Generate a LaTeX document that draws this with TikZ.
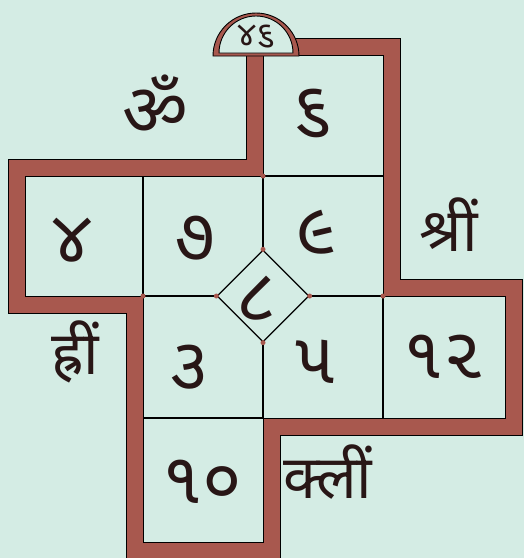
\documentclass[tikz,border=0pt]{standalone}
\usepackage{fontspec}
\usepackage{tikz}
\usetikzlibrary{shapes.geometric}

\newfontfamily\gujfont[Script=Gujarati]{Noto Sans Gujarati UI}
\newfontfamily\devfont[Script=Devanagari]{Noto Sans}

\definecolor{paper}{RGB}{212,236,228}
\definecolor{bandbrown}{RGB}{168,88,78}
\definecolor{ink}{RGB}{40,22,22}

\tikzset{
    band/.style={fill=bandbrown, draw=black, line width=0.9pt},
    cell/.style={fill=paper, draw=black, line width=0.9pt},
    divider/.style={draw=black, line width=1.3pt},
    digit/.style={font=\gujfont\fontsize{72}{72}\selectfont, text=ink},
    mantra/.style={font=\devfont\fontsize{60}{60}\selectfont, text=ink},
}

\begin{document}
\begin{tikzpicture}[x=1pt, y=-1pt]

    \fill[paper] (0,0) rectangle (524,558);
    \useasboundingbox (0,0) rectangle (524,558);

    % brown frame and the cells inside it
    \filldraw[band] (246,38) -- (400,38) -- (400,279) -- (522,279) -- (522,435)
        -- (280,435) -- (280,562) -- (126,562) -- (126,313) -- (8,313)
        -- (8,159) -- (246,159) -- cycle;
    \filldraw[cell] (263,55) -- (383,55) -- (383,296) -- (505,296) -- (505,418)
        -- (263,418) -- (263,542) -- (143,542) -- (143,296) -- (25,296)
        -- (25,176) -- (263,176) -- cycle;

    % crown on top
    \filldraw[band] (213,56) arc[start angle=180, end angle=360, radius=43] -- cycle;
    \filldraw[cell] (219,53) arc[start angle=180, end angle=360, radius=37] -- cycle;
    \node[digit, font=\gujfont\fontsize{34}{34}\selectfont] (crown) at (256,37) {૪૬};

    % centre
    \node[diamond, aspect=1, minimum width=92pt, minimum height=92pt, inner sep=0pt,
        fill=paper, draw=black, line width=1.3pt] (centre) at (263,296) {};
    \node[digit] (n8) at (256,298) {૮};

    \coordinate (topmid) at (263,176);
    \coordinate (toprt) at (383,176);
    \coordinate (leftmid) at (143,296);
    \coordinate (rightmid) at (383,296);
    \coordinate (lowmid) at (263,418);
    \coordinate (lowrt) at (383,418);
    \coordinate (lowlt) at (143,418);
    \coordinate (upleft) at (143,176);

    \draw[divider] (topmid) -- (toprt);
    \draw[divider] (upleft) -- (leftmid);
    \draw[divider] (topmid) -- (centre.north);
    \draw[divider] (leftmid) -- (centre.west);
    \draw[divider] (centre.east) -- (rightmid);
    \draw[divider] (centre.south) -- (lowmid);
    \draw[divider] (rightmid) -- (lowrt);
    \draw[divider] (lowlt) -- (lowmid);

    \foreach \p in {topmid, leftmid, rightmid, centre.north, centre.west, centre.east, centre.south}
        \fill[bandbrown] (\p) circle (2.5);

    % numbers
    \node[digit] (n6) at (312,113) {૬};
    \node[digit] (n4) at (72,240) {૪};
    \node[digit] (n7) at (195,238) {૭};
    \node[digit] (n9) at (316,232) {૯};
    \node[digit] (n3) at (189,367) {૩};
    \node[digit] (n5) at (315,362) {૫};
    \node[digit] (n12) at (443,357) {૧૨};
    \node[digit] (n10) at (202,482) {૧૦};

    % bija mantras
    \node[mantra, font=\devfont\fontsize{72}{72}\selectfont] (om) at (155,105) {ॐ};
    \node[mantra] (shrim) at (449,225) {श्रीं};
    \node[mantra] (hrim) at (75,352) {ह्रीं};
    \node[mantra] (klim) at (328,472) {क्लीं};

\end{tikzpicture}
\end{document}
